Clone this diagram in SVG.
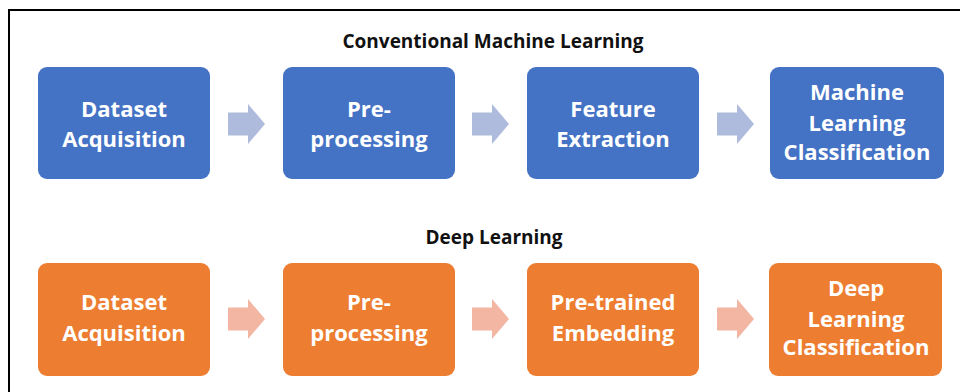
<svg xmlns="http://www.w3.org/2000/svg" width="960" height="392" viewBox="0 0 960 392">
<defs>
<style>
.title{font-family:"Open Sans","Liberation Sans",sans-serif;font-weight:700;font-size:19px;fill:#111;text-anchor:middle}
.lbl{font-family:"Open Sans","Liberation Sans",sans-serif;font-weight:700;font-size:22px;fill:#fff;text-anchor:middle}
.blue{fill:#4472C4}
.orange{fill:#ED7D31}
.ab{fill:#AEBBDC}
.ao{fill:#F2B6A3}
</style>
<path id="arr" d="M0,-11.5 H20 V-20 L37,0 L20,20 V11.5 H0 Z"/>
</defs>
<rect width="960" height="392" fill="#fff"/>
<path d="M9,392 V10 H960" fill="none" stroke="#000" stroke-width="2"/>
<text class="title" x="493" y="48">Conventional Machine Learning</text>
<text class="title" x="494" y="244">Deep Learning</text>
<g id="connectors">
<use href="#arr" class="ab" x="228" y="124"/>
<use href="#arr" class="ab" x="472" y="124"/>
<use href="#arr" class="ab" x="717" y="124"/>
<use href="#arr" class="ao" x="228" y="319"/>
<use href="#arr" class="ao" x="472" y="319"/>
<use href="#arr" class="ao" x="717" y="319"/>
</g>
<g id="ml1"><rect class="blue" x="38" y="67" width="172" height="112" rx="9"/><text class="lbl" x="124" y="117">Dataset</text><text class="lbl" x="124" y="147">Acquisition</text></g>
<g id="ml2"><rect class="blue" x="283" y="67" width="172" height="112" rx="9"/><text class="lbl" x="369" y="117">Pre-</text><text class="lbl" x="369" y="147">processing</text></g>
<g id="ml3"><rect class="blue" x="527" y="67" width="172" height="112" rx="9"/><text class="lbl" x="613" y="117">Feature</text><text class="lbl" x="613" y="147">Extraction</text></g>
<g id="ml4"><rect class="blue" x="770" y="67" width="174" height="112" rx="9"/><text class="lbl" x="857" y="100">Machine</text><text class="lbl" x="857" y="131">Learning</text><text class="lbl" x="857" y="160">Classification</text></g>
<g id="dl1"><rect class="orange" x="38" y="263" width="172" height="113" rx="9"/><text class="lbl" x="124" y="310">Dataset</text><text class="lbl" x="124" y="341">Acquisition</text></g>
<g id="dl2"><rect class="orange" x="283" y="263" width="172" height="113" rx="9"/><text class="lbl" x="369" y="310">Pre-</text><text class="lbl" x="369" y="341">processing</text></g>
<g id="dl3"><rect class="orange" x="527" y="263" width="172" height="113" rx="9"/><text class="lbl" x="613" y="310">Pre-trained</text><text class="lbl" x="613" y="341">Embedding</text></g>
<g id="dl4"><rect class="orange" x="769" y="263" width="173" height="113" rx="9"/><text class="lbl" x="856" y="296">Deep</text><text class="lbl" x="856" y="327">Learning</text><text class="lbl" x="856" y="355">Classification</text></g>
</svg>
